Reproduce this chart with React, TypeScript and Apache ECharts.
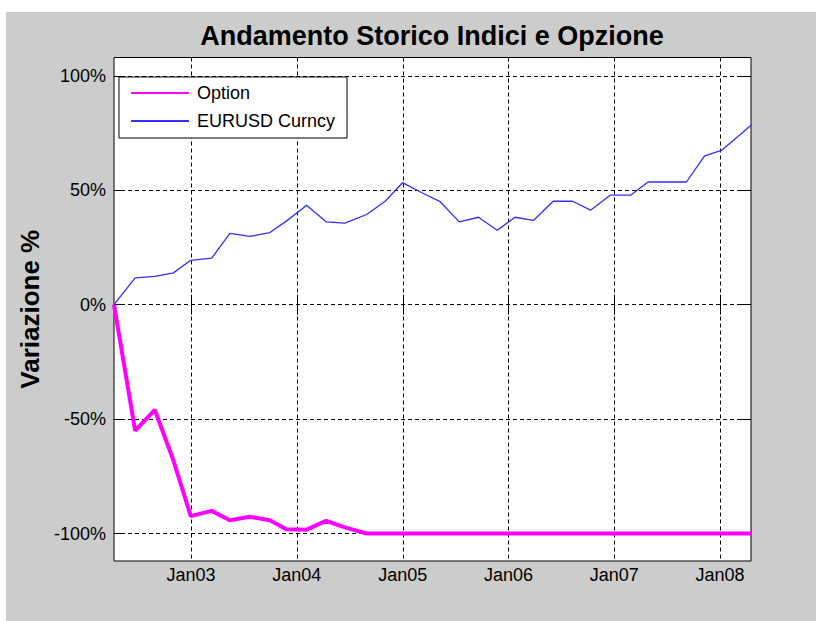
import { useEffect, useRef } from 'react';
import * as echarts from 'echarts';

const dates = [
  '2002-04-10', '2002-06-22', '2002-08-29', '2002-11-01', '2002-12-31', '2003-03-13',
  '2003-05-15', '2003-07-23', '2003-09-30', '2003-11-26', '2004-02-04', '2004-04-11',
  '2004-06-15', '2004-08-29', '2004-11-01', '2004-12-31', '2005-03-08', '2005-05-10',
  '2005-07-15', '2005-09-19', '2005-11-23', '2006-01-23', '2006-03-28', '2006-06-04',
  '2006-08-10', '2006-10-11', '2006-12-19', '2007-02-27', '2007-04-28', '2007-07-01',
  '2007-09-07', '2007-11-09', '2008-01-06', '2008-04-17',
];

const optionValues = [
  0, -55, -46, -68, -92.4, -90.1, -94.2, -92.7, -94.2, -98.1, -98.3, -94.5,
  -97.3, -100, -100, -100, -100, -100, -100, -100, -100, -100, -100, -100,
  -100, -100, -100, -100, -100, -100, -100, -100, -100, -100,
];

const eurusdValues = [
  0, 11.7, 12.4, 13.9, 19.4, 20.3, 31.2, 29.8, 31.5, 36.5, 43.4, 36.2,
  35.6, 39.4, 45.2, 53.3, 48.9, 45.0, 36.2, 38.2, 32.5, 38.2, 36.8, 45.2,
  45.2, 41.3, 47.9, 47.9, 53.6, 53.6, 53.6, 65.0, 67.4, 78.4,
];

const seriesNames = ['Option', 'EURUSD Curncy'];
const yTicks = [-100, -50, 0, 50, 100];
const xTickYears = [2003, 2004, 2005, 2006, 2007, 2008];
const yMin = -112;
const yMax = 108;

const FONT = '"Liberation Sans", Arial, Helvetica, sans-serif';

function parseDate(s: string): number {
  const [y, m, d] = s.split('-').map(Number);
  return Date.UTC(y, m - 1, d);
}

export default function App() {
  const ref = useRef<HTMLDivElement>(null);

  useEffect(() => {
    if (!ref.current) return;
    const chart = echarts.init(ref.current, null, { renderer: 'svg' });
    const xs = dates.map(parseDate);
    const xMin = xs[0];
    const xMax = xs[xs.length - 1];
    const xTicks = xTickYears.map((y) => Date.UTC(y, 0, 1));

    const tickStyle = { show: true, inside: true, length: 10, lineStyle: { color: '#000', width: 1 } };

    chart.setOption({
      animation: false,
      backgroundColor: '#cccccc',
      textStyle: { fontFamily: FONT },
      title: {
        text: 'Andamento Storico Indici e Opzione',
        left: 421,
        top: 5,
        textAlign: 'center',
        textStyle: { fontFamily: FONT, fontSize: 27, fontWeight: 'bold', color: '#000' },
      },
      legend: {
        orient: 'vertical',
        left: 113,
        top: 65,
        padding: [7, 12, 8, 11],
        itemGap: 10,
        itemWidth: 58,
        itemHeight: 18,
        backgroundColor: '#ffffff',
        borderColor: '#000',
        borderWidth: 1,
        borderRadius: 0,
        itemStyle: { opacity: 0 },
        data: seriesNames,
        textStyle: { fontFamily: FONT, fontSize: 18, color: '#000', padding: [0, 0, 0, 3] },
      },
      grid: {
        left: 108,
        top: 45.5,
        right: 65,
        bottom: 60,
        show: true,
        backgroundColor: '#ffffff',
        borderColor: '#000',
        borderWidth: 1,
      },
      xAxis: [
        {
          type: 'value',
          min: xMin,
          max: xMax,
          position: 'bottom',
          axisLine: { show: false },
          axisTick: { ...tickStyle, customValues: xTicks },
          axisLabel: {
            customValues: xTicks,
            margin: 5,
            fontSize: 18,
            color: '#000',
            fontFamily: FONT,
            formatter: (v: number) => 'Jan' + String(new Date(v).getUTCFullYear()).slice(2),
          },
          splitLine: { show: true, lineStyle: { color: '#000', type: [4, 3], width: 1 } },
        },
        {
          type: 'value',
          min: xMin,
          max: xMax,
          position: 'top',
          axisLine: { show: false },
          axisTick: { ...tickStyle, customValues: xTicks },
          axisLabel: { show: false, customValues: xTicks },
          splitLine: { show: false },
        },
      ],
      yAxis: [
        {
          type: 'value',
          min: yMin,
          max: yMax,
          position: 'left',
          name: 'Variazione %',
          nameLocation: 'middle',
          nameGap: 69,
          nameRotate: 90,
          nameTextStyle: { fontFamily: FONT, fontSize: 26, fontWeight: 'bold', color: '#000' },
          axisLine: { show: false },
          axisTick: { ...tickStyle, customValues: yTicks },
          axisLabel: {
            customValues: yTicks,
            margin: 8,
            fontSize: 18,
            color: '#000',
            fontFamily: FONT,
            formatter: (v: number) => v + '%',
          },
          splitLine: { show: true, lineStyle: { color: '#000', type: [4, 3], width: 1 } },
        },
        {
          type: 'value',
          min: yMin,
          max: yMax,
          position: 'right',
          axisLine: { show: false },
          axisTick: { ...tickStyle, customValues: yTicks },
          axisLabel: { show: false, customValues: yTicks },
          splitLine: { show: false },
        },
      ],
      series: [
        {
          name: seriesNames[0],
          type: 'line',
          xAxisIndex: 0,
          yAxisIndex: 0,
          symbol: 'none',
          lineStyle: { color: '#ff00ff', width: 4 },
          itemStyle: { color: '#ff00ff' },
          data: xs.map((x, i) => [x, optionValues[i]]),
        },
        {
          name: seriesNames[1],
          type: 'line',
          xAxisIndex: 0,
          yAxisIndex: 0,
          symbol: 'none',
          lineStyle: { color: '#3030ff', width: 1.3 },
          itemStyle: { color: '#3030ff' },
          data: xs.map((x, i) => [x, eurusdValues[i]]),
        },
      ],
    });

    return () => chart.dispose();
  }, []);

  return (
    <div style={{ position: 'fixed', left: 0, top: 0, width: 816, height: 621, background: '#ffffff' }}>
      <div ref={ref} style={{ position: 'absolute', left: 6, top: 12, width: 810, height: 609 }} />
    </div>
  );
}
